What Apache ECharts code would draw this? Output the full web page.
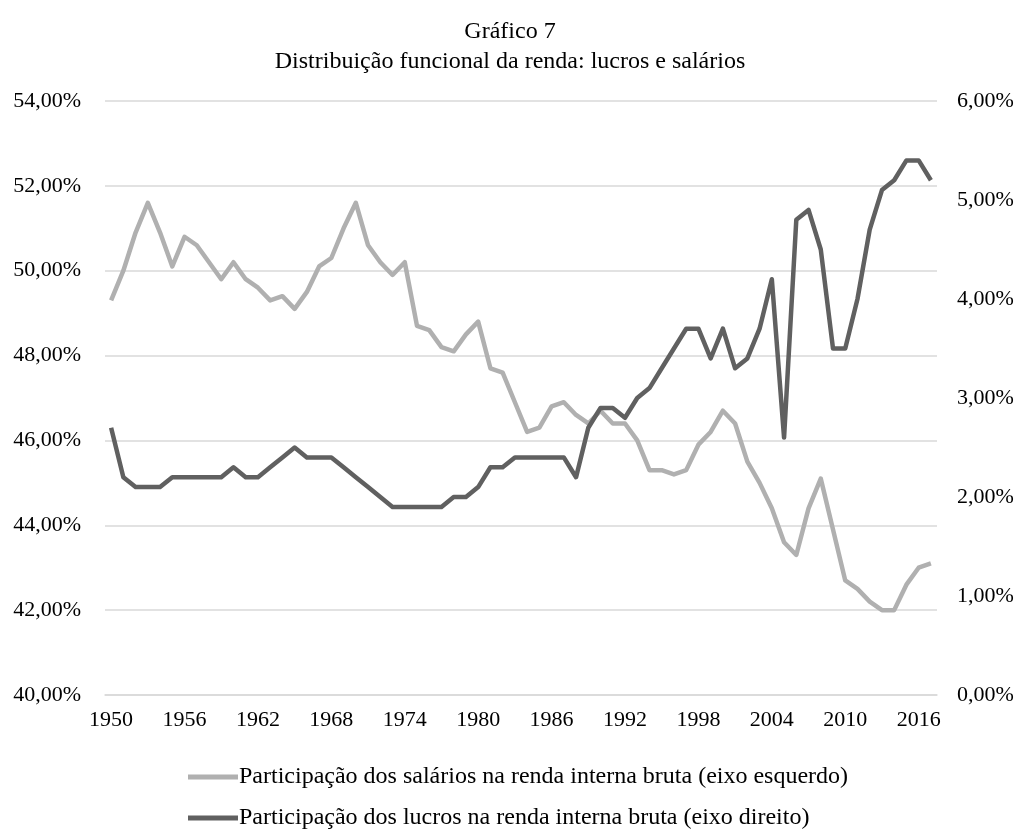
<!DOCTYPE html>
<html>
<head>
<meta charset="utf-8">
<script src="https://cdn.jsdelivr.net/npm/echarts@6/dist/echarts.min.js"></script>
<style>
  html, body { margin: 0; padding: 0; background: #fff; }
  #chart { width: 1020px; height: 829px; }
</style>
</head>
<body>
<div id="chart"></div>
<script>
// anos 1950-2017
const years = [];
for (let y = 1950; y <= 2017; y++) years.push(String(y));

// participação dos salários (% , eixo esquerdo)
const salarios = [
  49.3, 50.0, 50.9, 51.6, 50.9, 50.1, 50.8, 50.6, 50.2, 49.8,
  50.2, 49.8, 49.6, 49.3, 49.4, 49.1, 49.5, 50.1, 50.3, 51.0,
  51.6, 50.6, 50.2, 49.9, 50.2, 48.7, 48.6, 48.2, 48.1, 48.5,
  48.8, 47.7, 47.6, 46.9, 46.2, 46.3, 46.8, 46.9, 46.6, 46.4,
  46.7, 46.4, 46.4, 46.0, 45.3, 45.3, 45.2, 45.3, 45.9, 46.2,
  46.7, 46.4, 45.5, 45.0, 44.4, 43.6, 43.3, 44.4, 45.1, 43.9,
  42.7, 42.5, 42.2, 42.0, 42.0, 42.6, 43.0, 43.1
];

// participação dos lucros (% , eixo direito)
const lucros = [
  2.7, 2.2, 2.1, 2.1, 2.1, 2.2, 2.2, 2.2, 2.2, 2.2,
  2.3, 2.2, 2.2, 2.3, 2.4, 2.5, 2.4, 2.4, 2.4, 2.3,
  2.2, 2.1, 2.0, 1.9, 1.9, 1.9, 1.9, 1.9, 2.0, 2.0,
  2.1, 2.3, 2.3, 2.4, 2.4, 2.4, 2.4, 2.4, 2.2, 2.7,
  2.9, 2.9, 2.8, 3.0, 3.1, 3.3, 3.5, 3.7, 3.7, 3.4,
  3.7, 3.3, 3.4, 3.7, 4.2, 2.6, 4.8, 4.9, 4.5, 3.5,
  3.5, 4.0, 4.7, 5.1, 5.2, 5.4, 5.4, 5.2
];

const nomeSalarios = 'Participação dos salários na renda interna bruta (eixo esquerdo)';
const nomeLucros = 'Participação dos lucros na renda interna bruta (eixo direito)';

const fonte = 'Liberation Serif, Times New Roman, serif';
const pct = v => v.toFixed(2).replace('.', ',') + '%';

const legendaBase = {
  orient: 'horizontal',
  left: 188,
  padding: 0,
  itemWidth: 50,
  itemHeight: 5,
  icon: 'rect',
  textStyle: { fontFamily: fonte, fontSize: 24, color: '#000', padding: [0, 0, 0, -4] }
};

const chart = echarts.init(document.getElementById('chart'));
const options = {
  animation: false,
  textStyle: { fontFamily: fonte, color: '#000' },
  title: {
    left: 'center',
    top: 15,
    text: 'Gráfico 7',
    subtext: 'Distribuição funcional da renda: lucros e salários',
    itemGap: 6,
    textStyle: { fontFamily: fonte, fontSize: 24, fontWeight: 'normal', color: '#000' },
    subtextStyle: { fontFamily: fonte, fontSize: 24, color: '#000' }
  },
  grid: { left: 105, right: 83, top: 101, bottom: 134 },
  legend: [
    Object.assign({}, legendaBase, { top: 765, data: [nomeSalarios] }),
    Object.assign({}, legendaBase, { top: 806, data: [nomeLucros] })
  ],
  xAxis: {
    type: 'category',
    data: years,
    boundaryGap: true,
    axisLine: { lineStyle: { color: '#d9d9d9', width: 1.5 } },
    axisTick: { interval: 5, length: 6, lineStyle: { color: '#d9d9d9', width: 1.5 } },
    axisLabel: { interval: 5, margin: 14, fontSize: 22, color: '#000', fontFamily: fonte }
  },
  yAxis: [
    {
      type: 'value',
      min: 40,
      max: 54,
      interval: 2,
      axisLine: { show: false },
      axisTick: { show: false },
      splitLine: { lineStyle: { color: '#d9d9d9', width: 1.5 } },
      axisLabel: { margin: 24, fontSize: 22, color: '#000', fontFamily: fonte, formatter: pct }
    },
    {
      type: 'value',
      min: 0,
      max: 6,
      interval: 1,
      axisLine: { show: false },
      axisTick: { show: false },
      splitLine: { show: false },
      axisLabel: { margin: 20, fontSize: 22, color: '#000', fontFamily: fonte, formatter: pct }
    }
  ],
  series: [
    {
      name: nomeSalarios,
      type: 'line',
      yAxisIndex: 0,
      data: salarios,
      symbol: 'none',
      lineStyle: { color: '#b0b0b0', width: 4.5, join: 'round' },
      itemStyle: { color: '#b0b0b0' }
    },
    {
      name: nomeLucros,
      type: 'line',
      yAxisIndex: 1,
      data: lucros,
      symbol: 'none',
      lineStyle: { color: '#606060', width: 4.5, join: 'round' },
      itemStyle: { color: '#606060' }
    }
  ]
};
chart.setOption(options);
</script>
</body>
</html>
